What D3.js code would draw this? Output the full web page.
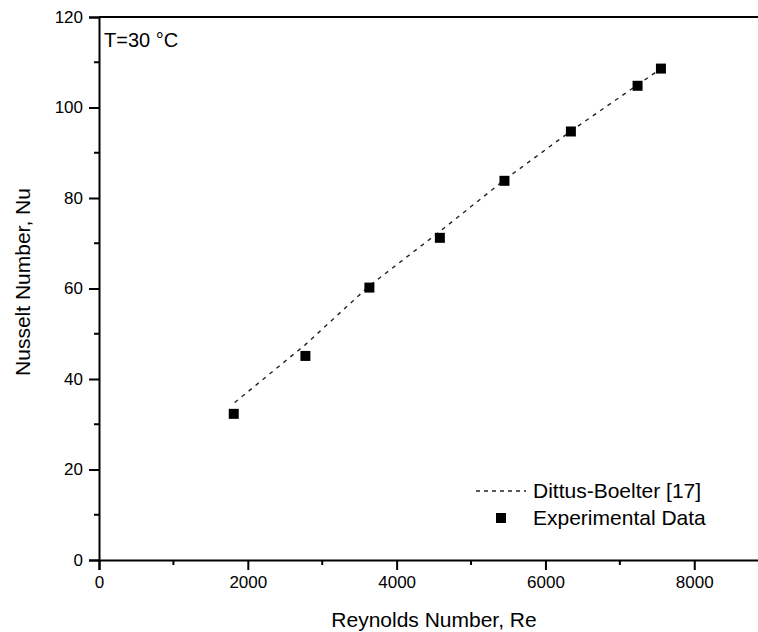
<!DOCTYPE html>
<html>
<head>
<meta charset="utf-8">
<script src="https://cdn.jsdelivr.net/npm/d3@7"></script>
<style>
  body { margin: 0; background: #fff; }
  svg { display: block; font-family: "Liberation Sans", Arial, sans-serif; }
</style>
</head>
<body>
<svg width="758" height="632"></svg>
<script>
// experimental points
const reynolds = [1811, 2774, 3634, 4581, 5449, 6342, 7238, 7552];
const nusselt = [32.3, 45.1, 60.2, 71.2, 83.8, 94.7, 104.8, 108.6];

// Dittus-Boelter correlation curve, sampled from the figure
const dbRe = [1824, 2774, 3634, 4581, 5449, 6342, 7238, 7552];
const dbNu = [34.8, 47.6, 60.6, 72.6, 84.0, 94.8, 105.0, 108.6];

const xMajor = [0, 2000, 4000, 6000, 8000];
const xMinor = [1000, 3000, 5000, 7000];
const yMajor = [0, 20, 40, 60, 80, 100, 120];
const yMinor = [10, 30, 50, 70, 90, 110];

const svg = d3.select("svg");
const plotLeft = 99, plotTop = 17, plotBottom = 560, plotRight = 759;

const x = d3.scaleLinear().domain([0, 8870]).range([plotLeft, plotRight]);
const y = d3.scaleLinear().domain([0, 120]).range([plotBottom, plotTop]);

// frame: top line
svg.append("line")
    .attr("x1", plotLeft).attr("x2", plotRight)
    .attr("y1", plotTop).attr("y2", plotTop)
    .attr("stroke", "#000").attr("stroke-width", 2);

// x axis
const xAxis = svg.append("g").attr("transform", `translate(0,${plotBottom})`);
xAxis.call(d3.axisBottom(x).tickValues(xMajor).tickSize(10).tickPadding(6).tickFormat(d3.format("d")));
xAxis.append("g").selectAll("line")
    .data(xMinor).enter().append("line")
    .attr("x1", d => x(d)).attr("x2", d => x(d))
    .attr("y1", 0).attr("y2", 5)
    .attr("stroke", "#000").attr("stroke-width", 2);

// y axis
const yAxis = svg.append("g").attr("transform", `translate(${plotLeft},0)`);
yAxis.call(d3.axisLeft(y).tickValues(yMajor).tickSize(10).tickPadding(6));
yAxis.append("g").selectAll("line")
    .data(yMinor).enter().append("line")
    .attr("x1", 0).attr("x2", -5)
    .attr("y1", d => y(d)).attr("y2", d => y(d))
    .attr("stroke", "#000").attr("stroke-width", 2);

svg.selectAll(".domain").attr("stroke", "#000").attr("stroke-width", 2);
svg.selectAll(".tick line").attr("stroke", "#000").attr("stroke-width", 2);
svg.selectAll(".tick text")
    .attr("fill", "#000")
    .style("font-family", "'Liberation Sans', Arial, sans-serif")
    .style("font-size", "17px");

// axis titles
svg.append("text")
    .attr("x", 434).attr("y", 627)
    .attr("text-anchor", "middle")
    .style("font-size", "21px")
    .text("Reynolds Number, Re");

svg.append("text")
    .attr("transform", "translate(30,282) rotate(-90)")
    .attr("text-anchor", "middle")
    .style("font-size", "21px")
    .text("Nusselt Number, Nu");

// annotation
svg.append("text")
    .attr("x", 104).attr("y", 47)
    .style("font-size", "20px")
    .text("T=30 °C");

// correlation line
const line = d3.line()
    .x((d, i) => x(dbRe[i]))
    .y(d => y(d));

svg.append("path")
    .datum(dbNu)
    .attr("d", line)
    .attr("fill", "none")
    .attr("stroke", "#222")
    .attr("stroke-width", 1.4)
    .attr("stroke-dasharray", "4,5");

// experimental points
const size = 10;
svg.append("g").selectAll("rect")
    .data(reynolds).enter().append("rect")
    .attr("x", d => x(d) - size / 2)
    .attr("y", (d, i) => y(nusselt[i]) - size / 2)
    .attr("width", size).attr("height", size)
    .attr("fill", "#000");

// legend
const legend = svg.append("g");
legend.append("line")
    .attr("x1", 476).attr("x2", 526)
    .attr("y1", 491).attr("y2", 491)
    .attr("stroke", "#222").attr("stroke-width", 1.4)
    .attr("stroke-dasharray", "4,4");
legend.append("text")
    .attr("x", 533).attr("y", 498)
    .style("font-size", "21px")
    .text("Dittus-Boelter [17]");
legend.append("rect")
    .attr("x", 496).attr("y", 513)
    .attr("width", size).attr("height", size)
    .attr("fill", "#000");
legend.append("text")
    .attr("x", 533).attr("y", 525)
    .style("font-size", "21px")
    .text("Experimental Data");
</script>
</body>
</html>
